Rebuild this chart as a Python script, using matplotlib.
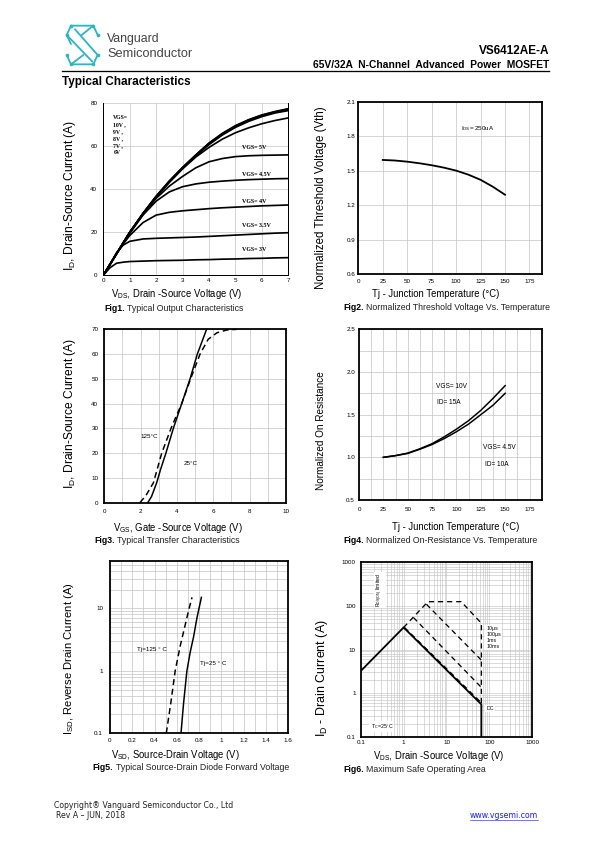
import matplotlib
matplotlib.use('Agg')
import matplotlib.pyplot as plt
from matplotlib.ticker import NullFormatter, LogLocator

plt.rcParams['font.family'] = ['Liberation Sans', 'DejaVu Sans']
plt.rcParams['mathtext.fontset'] = 'custom'
plt.rcParams['mathtext.rm'] = 'Liberation Sans'
plt.rcParams['mathtext.it'] = 'Liberation Sans:italic'
plt.rcParams['mathtext.bf'] = 'Liberation Sans:bold'

# ---------------- data ----------------
# Fig1 output characteristics
vds1 = [0, 0.25, 0.5, 0.75, 1, 1.5, 2, 2.5, 3, 3.5, 4, 4.5, 5, 5.5, 6, 6.5, 7]
id_vgs3 = [0, 3.5, 5.6, 6.1, 6.4, 6.6, 6.8, 6.9, 7.0, 7.2, 7.3, 7.5, 7.6, 7.8, 7.9, 8.1, 8.2]
id_vgs35 = [0, 5, 10.5, 14, 15.8, 16.9, 17.2, 17.4, 17.6, 17.8, 18.1, 18.4, 18.7, 19.0, 19.3, 19.6, 19.8]
id_vgs4 = [0, 5, 10, 14.5, 18.5, 24.5, 28.0, 29.3, 30.0, 30.5, 31.0, 31.4, 31.7, 32.0, 32.3, 32.5, 32.7]
id_vgs45 = [0, 5, 10, 15, 19.5, 28, 34.5, 38.8, 41.2, 42.5, 43.3, 43.8, 44.2, 44.5, 44.7, 44.9, 45.0]
id_vgs5 = [0, 5, 10, 15, 19.8, 28.3, 35.8, 41.5, 46.0, 50.0, 52.8, 54.3, 55.2, 55.6, 55.8, 55.9, 56.0]
id_vgs6 = [0, 5, 10, 15, 20, 28.5, 36.3, 43.2, 49.5, 55.0, 59.5, 63.3, 66.3, 68.6, 70.5, 72.0, 73.2]
id_vgs7 = [0, 5, 10, 15, 20, 28.6, 36.5, 43.5, 49.8, 55.5, 60.8, 65.2, 68.8, 71.6, 73.8, 75.5, 76.6]
id_vgs8 = [0, 5, 10, 15, 20, 28.7, 36.6, 43.7, 50.0, 55.8, 61.2, 65.6, 69.2, 72.0, 74.2, 75.8, 77.0]
id_vgs9 = [0, 5, 10, 15, 20, 28.7, 36.7, 43.8, 50.1, 55.9, 61.4, 65.8, 69.4, 72.2, 74.4, 76.0, 77.3]
id_vgs10 = [0, 5, 10, 15, 20, 28.8, 36.8, 43.9, 50.2, 56.0, 61.5, 66.0, 69.6, 72.4, 74.6, 76.2, 77.5]

# Fig2 threshold voltage
tj2 = [25, 37.5, 50, 62.5, 75, 87.5, 100, 112.5, 125, 137.5, 150]
vth2 = [1.593, 1.588, 1.578, 1.564, 1.547, 1.526, 1.50, 1.465, 1.42, 1.36, 1.29]

# Fig3 transfer characteristics
vgs3_25 = [2.39, 2.6, 2.88, 3.1, 3.39, 3.8, 4.26, 4.72, 5.12, 5.63]
id3_25 = [0, 2.5, 8, 13.5, 20, 30, 40, 50, 60, 70]
vgs3_125 = [1.96, 2.3, 2.7, 3.16, 3.67, 4.26, 4.75, 5.27, 5.72, 6.2, 6.73, 7.3]
id3_125 = [0, 3, 8, 20, 30, 40, 50, 60, 66, 68.6, 69.7, 70]

# Fig4 normalized on-resistance
tj4 = [25, 37.5, 50, 62.5, 75, 87.5, 100, 112.5, 125, 137.5, 150]
ron_10v = [1.0, 1.02, 1.05, 1.10, 1.16, 1.24, 1.33, 1.43, 1.55, 1.69, 1.84]
ron_45v = [1.0, 1.02, 1.045, 1.095, 1.15, 1.22, 1.30, 1.39, 1.50, 1.61, 1.75]

# Fig5 diode forward voltage
vsd_25 = [0.637, 0.66, 0.69, 0.72, 0.75, 0.78, 0.82]
isd_25 = [0.1, 0.3, 1, 2, 3.5, 7, 15]
vsd_125 = [0.505, 0.545, 0.585, 0.63, 0.67, 0.71, 0.736]
isd_125 = [0.1, 0.3, 1, 2.5, 5, 10, 15]

# Fig6 SOA
soa_dc_v = [0.1, 1, 65, 65]
soa_dc_i = [3.2, 32, 0.55, 0.1]
soa_10ms_v = [1.05, 65]
soa_10ms_i = [32, 0.6]
soa_1ms_v = [1.7, 65]
soa_1ms_i = [54, 1.35]
soa_100us_v = [3.4, 65]
soa_100us_i = [109, 5.7]
soa_10us_v = [1, 3.7, 22, 65, 65]
soa_10us_i = [32, 125, 125, 40, 0.55]

# ---------------- layout helpers ----------------
W, H = 595, 842
fig = plt.figure(figsize=(W / 72, H / 72), dpi=72)
NARROW = ['Liberation Sans', 'DejaVu Sans']
GRID = '#c4c4c4'
TICK = 6.3


def axbox(l, t, r, b):
    return fig.add_axes([l / W, 1 - b / H, (r - l) / W, (b - t) / H])


def ftext(x, y, s, **kw):
    return fig.text(x / W, 1 - y / H, s, **kw)


def style(ax, xt, xl, yt, yl, lw=1.8, xpad=4, ypad=5):
    for sp in ax.spines.values():
        sp.set_linewidth(lw)
        sp.set_color('black')
    ax.set_xticks(xt)
    ax.set_xticklabels(xl, fontsize=TICK, family=NARROW)
    ax.set_yticks(yt)
    ax.set_yticklabels(yl, fontsize=TICK, family=NARROW)
    ax.tick_params(which='both', length=0)
    ax.tick_params(axis='x', pad=xpad)
    ax.tick_params(axis='y', pad=ypad)
    ax.set_axisbelow(True)


renderer = fig.canvas.get_renderer()


def caption(x, y, num, rest, size=8.8):
    t = ftext(x, y, num, fontsize=size, weight='bold', va='center', ha='left')
    bb = t.get_window_extent(renderer=renderer)
    fig.text((bb.x1 + 2.2) / W, 1 - y / H, rest, fontsize=size, va='center', ha='left', color='#222222')


# overlay for header graphics
ov = fig.add_axes([0, 0, 1, 1])
ov.set_xlim(0, W)
ov.set_ylim(H, 0)
ov.axis('off')

# logo
teal = '#2ab4c6'


def zp(zx, zy):
    return 55 + zx / 3, 20 + zy / 3


logo_lines = [
    [(48, 17), (115, 17), (128, 45)],
    [(48, 17), (35, 45), (48, 72)],
    [(35, 45), (112, 125)],
    [(60, 28), (128, 105)],
    [(48, 133), (115, 133), (128, 105)],
    [(48, 133), (35, 105)],
    [(115, 17), (80, 45)],
    [(48, 133), (85, 105)],
]
for ln in logo_lines:
    pts = [zp(*p) for p in ln]
    ov.plot([p[0] for p in pts], [p[1] for p in pts], color=teal, lw=1.8, solid_capstyle='round')
for p in [(48, 17), (115, 17), (35, 45), (128, 45), (35, 105), (128, 105), (48, 133), (115, 133)]:
    q = zp(*p)
    ov.plot(q[0], q[1], 'o', ms=2.6, color=teal)

ftext(107, 39, 'Vanguard', fontsize=12.2, color='#444444', va='center', ha='left')
ftext(107, 54, 'Semiconductor', fontsize=12.7, color='#444444', va='center', ha='left')
ftext(549, 50.5, 'VS6412AE-A', fontsize=11.8, weight='bold', va='center', ha='right')
ftext(549, 64.5, '65V/32A  N-Channel  Advanced  Power  MOSFET', fontsize=10.2, weight='bold', va='center', ha='right')
ov.plot([62, 549], [71, 71], color='black', lw=1.3)
ftext(62, 82.5, 'Typical Characteristics', fontsize=11.8, weight='bold', va='center', ha='left')

# ---------------- Fig1 ----------------
ax1 = axbox(103.3, 103.3, 288.3, 275.3)
for ys in [id_vgs3, id_vgs35, id_vgs4, id_vgs45, id_vgs5, id_vgs6, id_vgs7, id_vgs8, id_vgs9, id_vgs10]:
    ax1.plot(vds1, ys, color='black', lw=1.7)
ax1.set_xlim(0, 7)
ax1.set_ylim(0, 80)
style(ax1, range(8), [str(i) for i in range(8)], [0, 20, 40, 60, 80], ['0', '20', '40', '60', '80'],
      lw=1.0, xpad=3, ypad=6)
ax1.spines['top'].set_visible(False)
ax1.grid(True, color=GRID, lw=0.7)
ax1.text(0.38, 74.5, 'VGS=\n10V ,\n9V ,\n8V ,\n7V ,\n6V', fontsize=5.8, weight='bold', family=['Liberation Serif'],
         va='top', ha='left', linespacing=1.5)
for txt, yy in [('VGS= 5V', 59.5), ('VGS= 4.5V', 46.8), ('VGS= 4V', 34.3), ('VGS= 3.5V', 23.0), ('VGS= 3V', 11.8)]:
    ax1.text(5.25, yy, txt, fontsize=6, weight='bold', family=['Liberation Serif'], va='center', ha='left')
ftext(70, 195, r'$\mathrm{I_{D}}$, Drain-Source Current (A)', fontsize=12, rotation=90, va='center', ha='center')
ftext(177, 294, r'$\mathrm{V_{DS}}$, Drain -Source Voltage (V)', fontsize=9.5, va='center', ha='center')
caption(104, 308.3, 'Fig1.', 'Typical Output Characteristics')

# ---------------- Fig2 ----------------
ax2 = axbox(358.3, 101.7, 541.7, 274)
ax2.plot(tj2, vth2, color='black', lw=1.8)
ax2.set_xlim(0, 187.5)
ax2.set_ylim(0.6, 2.1)
style(ax2, [0, 25, 50, 75, 100, 125, 150, 175], ['0', '25', '50', '75', '100', '125', '150', '175'],
      [0.6, 0.9, 1.2, 1.5, 1.8, 2.1], ['0.6', '0.9', '1.2', '1.5', '1.8', '2.1'], xpad=5, ypad=3)
ax2.grid(True, color=GRID, lw=0.7)
ax2.text(105, 1.87, r'$\mathrm{I_{DS}}$= 250uA', fontsize=6.2, family=NARROW, va='center', ha='left')
ftext(321, 197.5, 'Normalized Threshold Voltage (Vth)', fontsize=11.5, rotation=90, va='center', ha='center')
ftext(436, 294, 'Tj - Junction Temperature (\u00b0C)', fontsize=9.5, va='center', ha='center')
caption(343, 307.3, 'Fig2.', 'Normalized Threshold Voltage Vs. Temperature')

# ---------------- Fig3 ----------------
ax3 = axbox(104.3, 329.3, 286, 502.7)
ax3.plot(vgs3_25, id3_25, color='black', lw=1.5)
ax3.plot(vgs3_125, id3_125, color='black', lw=1.5, ls=(0, (4, 2.5)))
ax3.set_xlim(0, 10)
ax3.set_ylim(0, 70)
style(ax3, [0, 2, 4, 6, 8, 10], ['0', '2', '4', '6', '8', '10'],
      [0, 10, 20, 30, 40, 50, 60, 70], ['0', '10', '20', '30', '40', '50', '60', '70'], xpad=6, ypad=6)
ax3.set_xticks(range(11), minor=True)
ax3.grid(True, which='both', color=GRID, lw=0.7)
ax3.text(2.0, 26.6, '125\u00b0C', fontsize=6.2, family=NARROW, va='center', ha='left')
ax3.text(4.35, 15.9, '25\u00b0C', fontsize=6.2, family=NARROW, va='center', ha='left')
ftext(70, 413, r'$\mathrm{I_{D}}$, Drain-Source Current (A)', fontsize=12, rotation=90, va='center', ha='center')
ftext(178, 527.7, r'$\mathrm{V_{GS}}$, Gate -Source Voltage (V)', fontsize=9.5, va='center', ha='center')
caption(94.3, 540.7, 'Fig3.', 'Typical Transfer Characteristics')

# ---------------- Fig4 ----------------
ax4 = axbox(359, 329.3, 541.7, 500)
ax4.plot(tj4, ron_10v, color='black', lw=1.5)
ax4.plot(tj4, ron_45v, color='black', lw=1.5)
ax4.set_xlim(0, 187.5)
ax4.set_ylim(0.5, 2.5)
style(ax4, [0, 25, 50, 75, 100, 125, 150, 175], ['0', '25', '50', '75', '100', '125', '150', '175'],
      [0.5, 1.0, 1.5, 2.0, 2.5], ['0.5', '1.0', '1.5', '2.0', '2.5'], xpad=7, ypad=4)
ax4.set_xticks([12.5 * i for i in range(16)], minor=True)
ax4.set_yticks([0.5 + 0.25 * i for i in range(9)], minor=True)
ax4.grid(True, which='both', color=GRID, lw=0.7)
ax4.text(79, 1.83, 'VGS= 10V', fontsize=6.5, family=NARROW, va='center', ha='left')
ax4.text(80, 1.64, 'ID= 15A', fontsize=6.5, family=NARROW, va='center', ha='left')
ax4.text(127, 1.11, 'VGS= 4.5V', fontsize=6.5, family=NARROW, va='center', ha='left')
ax4.text(129, 0.92, 'ID= 10A', fontsize=6.5, family=NARROW, va='center', ha='left')
ftext(320.7, 430.8, 'Normalized On Resistance', fontsize=10, rotation=90, va='center', ha='center')
ftext(456, 527, 'Tj - Junction Temperature (\u00b0C)', fontsize=9.5, va='center', ha='center')
caption(343.3, 540.7, 'Fig4.', 'Normalized On-Resistance Vs. Temperature')

# ---------------- Fig5 ----------------
ax5 = axbox(110, 560.7, 288.3, 733.3)
ax5.plot(vsd_25, isd_25, color='black', lw=1.5)
ax5.plot(vsd_125, isd_125, color='black', lw=1.5, ls=(0, (4, 2.5)))
ax5.set_yscale('log')
ax5.set_xlim(0, 1.6)
ax5.set_ylim(0.1, 58)
style(ax5, [0, 0.2, 0.4, 0.6, 0.8, 1.0, 1.2, 1.4, 1.6], ['0', '0.2', '0.4', '0.6', '0.8', '1', '1.2', '1.4', '1.6'],
      [0.1, 1, 10], ['0.1', '1', '10'], xpad=5, ypad=7)
ax5.set_xticks([0.1 * i for i in range(17)], minor=True)
ax5.yaxis.set_minor_locator(LogLocator(base=10, subs=range(2, 10)))
ax5.yaxis.set_minor_formatter(NullFormatter())
ax5.tick_params(which='both', length=0)
ax5.grid(True, which='both', color=GRID, lw=0.7)
ax5.text(0.24, 2.2, 'Tj=125 \u00b0 C', fontsize=6.2, family=NARROW, va='center', ha='left')
ax5.text(0.805, 1.3, 'Tj=25 \u00b0 C', fontsize=6.2, family=NARROW, va='center', ha='left')
ftext(69.3, 659, r'$\mathrm{I_{SD}}$, Reverse Drain Current (A)', fontsize=11.3, rotation=90, va='center', ha='center')
ftext(175, 755, r'$\mathrm{V_{SD}}$, Source-Drain Voltage (V)', fontsize=9.5, va='center', ha='center')
caption(92.7, 767.5, 'Fig5.', 'Typical Source-Drain Diode Forward Voltage')

# ---------------- Fig6 ----------------
ax6 = axbox(360.7, 562.3, 532.3, 736.7)
ax6.set_xscale('log')
ax6.set_yscale('log')
ax6.plot(soa_10us_v, soa_10us_i, color='black', lw=1.3, ls=(0, (4, 3)))
ax6.plot(soa_100us_v, soa_100us_i, color='black', lw=1.3, ls=(0, (4, 3)))
ax6.plot(soa_1ms_v, soa_1ms_i, color='black', lw=1.3, ls=(0, (4, 3)))
ax6.plot(soa_10ms_v, soa_10ms_i, color='black', lw=1.3, ls=(0, (4, 3)))
ax6.plot(soa_dc_v, soa_dc_i, color='black', lw=1.8)
ax6.set_xlim(0.1, 1000)
ax6.set_ylim(0.1, 1000)
style(ax6, [0.1, 1, 10, 100, 1000], ['0.1', '1', '10', '100', '1000'],
      [0.1, 1, 10, 100, 1000], ['0.1', '1', '10', '100', '1000'], xpad=3, ypad=5)
for a in (ax6.xaxis, ax6.yaxis):
    a.set_minor_locator(LogLocator(base=10, subs=range(2, 10)))
    a.set_minor_formatter(NullFormatter())
ax6.tick_params(which='both', length=0)
ax6.grid(True, which='both', color=GRID, lw=0.6)
box = dict(facecolor='white', edgecolor='none', pad=1.2)
ax6.text(0.28, 230, r'$\mathrm{R_{DS(ON)}}$ limited', fontsize=5, rotation=90, va='center', ha='center',
         family=NARROW, bbox=box)
ax6.text(85, 19, '10\u00b5s\n100\u00b5s\n1ms\n10ms', fontsize=5.2, va='center', ha='left', family=NARROW,
         bbox=box, linespacing=1.2)
ax6.text(85, 0.45, 'DC', fontsize=5.2, va='center', ha='left', family=NARROW, bbox=box)
ax6.text(0.17, 0.17, r'$\mathrm{T_{C}}$=25' + '\u00b0C', fontsize=5.2, va='center', ha='left', family=NARROW,
         bbox=box)
ftext(321.7, 678, r'$\mathrm{I_{D}}$ - Drain Current (A)', fontsize=12.5, rotation=90, va='center', ha='center')
ftext(439, 756, r'$\mathrm{V_{DS}}$, Drain -Source Voltage (V)', fontsize=9.5, va='center', ha='center')
caption(343.3, 769.5, 'Fig6.', 'Maximum Safe Operating Area')

# ---------------- footer ----------------
FOOT = ['DejaVu Sans']
ftext(54, 805, 'Copyright\u00ae Vanguard Semiconductor Co., Ltd', fontsize=7.8, family=FOOT, va='center',
      ha='left', color='#222222')
ftext(56, 815.7, 'Rev A \u2013 JUN, 2018', fontsize=7.8, family=FOOT, va='center', ha='left', color='#222222')
url = ftext(538, 815.7, 'www.vgsemi.com', fontsize=7.8, family=FOOT, va='center', ha='right', color='#1a1aff')
bb = url.get_window_extent(renderer=renderer)
ov.plot([bb.x0, bb.x1], [820, 820], color='#1a1aff', lw=0.6)

fig.savefig('out.png', dpi=72)
